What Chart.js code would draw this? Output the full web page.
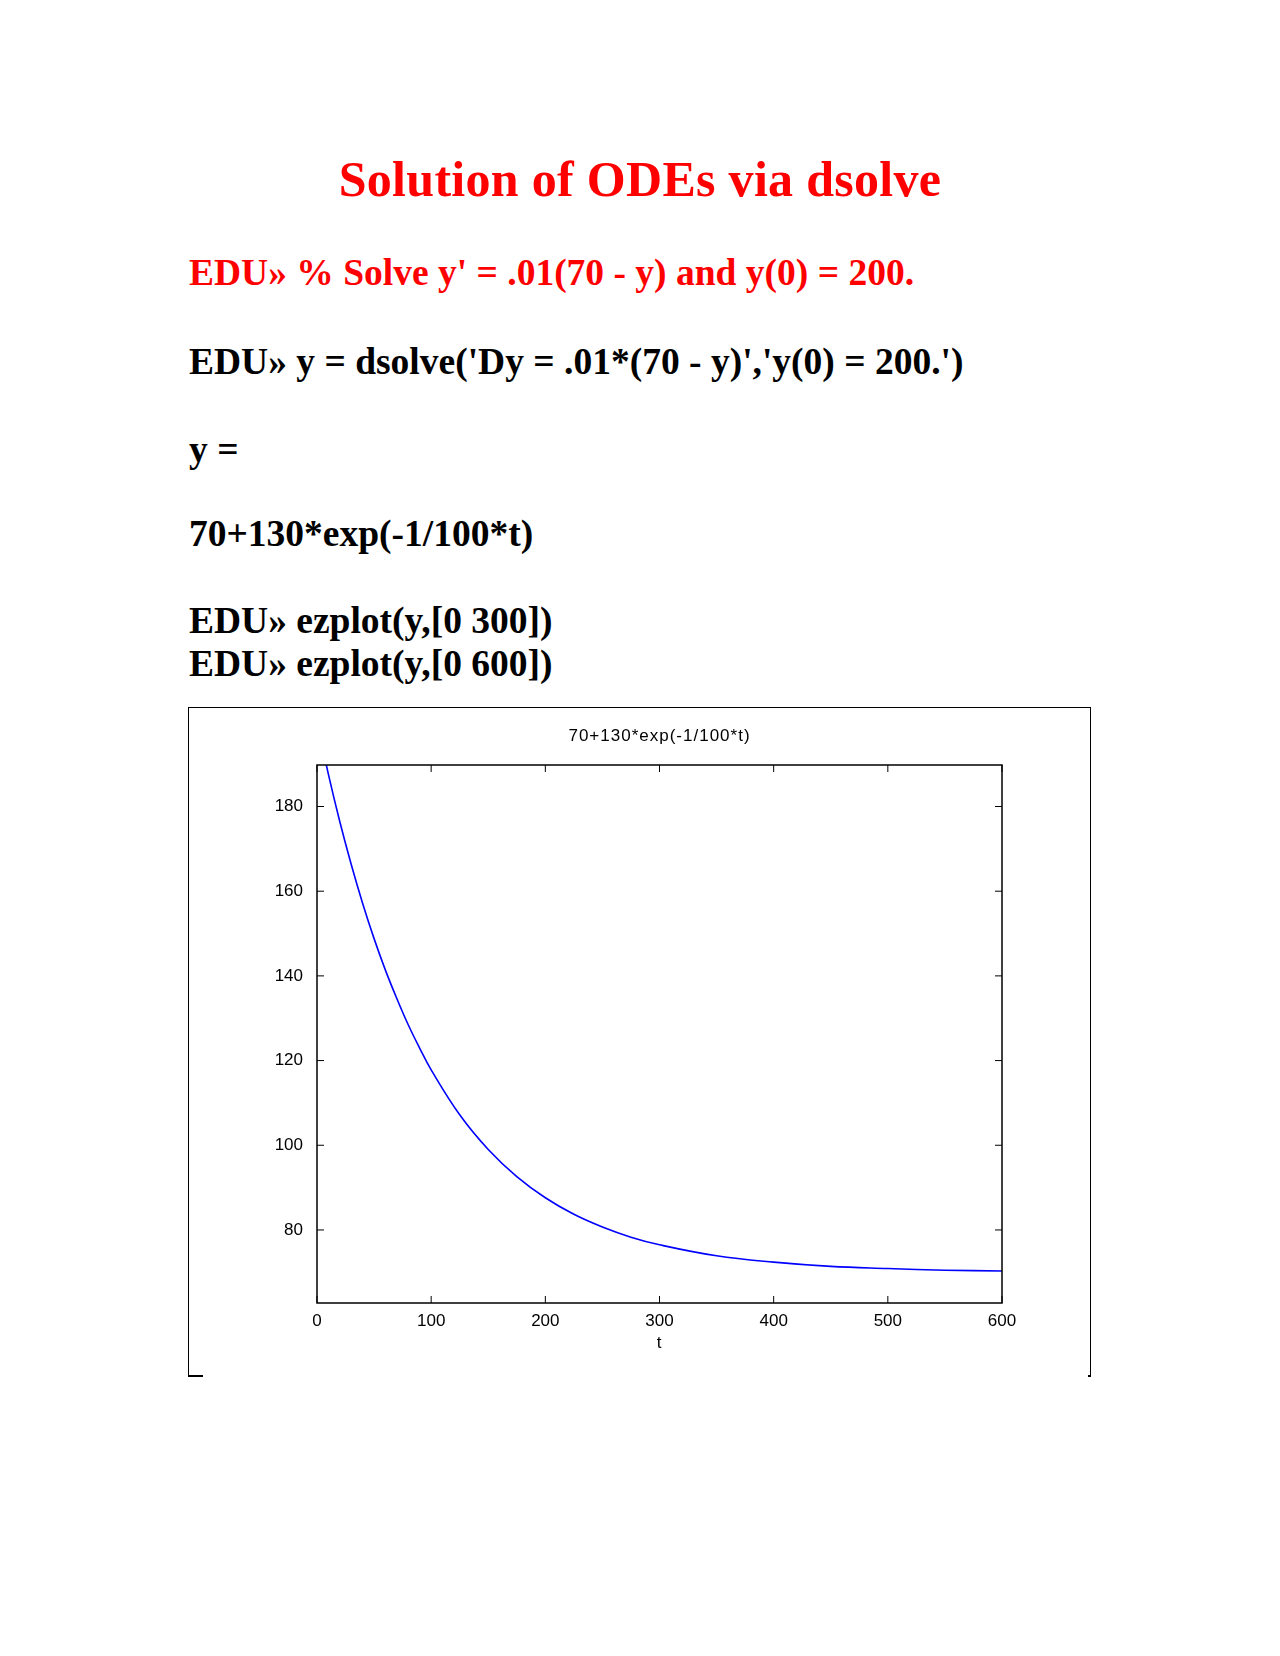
<!DOCTYPE html>
<html><head><meta charset="utf-8">
<script src="https://cdn.jsdelivr.net/npm/chart.js@4"></script>
<style>
body{margin:0;width:1280px;height:1656px;background:#fff;position:relative;font-family:"Liberation Serif","Times New Roman",serif;}
.t{position:absolute;font-weight:bold;white-space:nowrap;line-height:1;}
#box{position:absolute;left:188px;top:707px;width:901px;height:668px;border:1.5px solid #000;border-bottom:none;}
.seg{position:absolute;height:1.5px;background:#000;top:1375px;}
#cv{position:absolute;left:188px;top:707px;}
</style></head><body>
<div class="t" style="left:0;width:1280px;text-align:center;top:154px;font-size:50px;color:#f00;letter-spacing:0.3px">Solution of ODEs via dsolve</div>
<div class="t" style="left:189px;top:254px;font-size:37.5px;color:#f00">EDU» % Solve y' = .01(70 - y) and y(0) = 200.</div>
<div class="t" style="left:189px;top:343px;font-size:37.5px">EDU» y = dsolve('Dy = .01*(70 - y)','y(0) = 200.')</div>
<div class="t" style="left:189px;top:431px;font-size:37.5px">y =</div>
<div class="t" style="left:189px;top:515px;font-size:37.5px">70+130*exp(-1/100*t)</div>
<div class="t" style="left:189px;top:602px;font-size:37.5px">EDU» ezplot(y,[0 300])</div>
<div class="t" style="left:189px;top:645px;font-size:37.5px">EDU» ezplot(y,[0 600])</div>
<div id="box"></div>
<div class="seg" style="left:188px;width:15px"></div>
<div class="seg" style="left:1088px;width:3px"></div>
<canvas id="cv" width="903" height="669"></canvas>
<script>
const tValues=[0,10,20,30,40,50,60,70,80,90,100,125,150,175,200,225,250,275,300,350,400,450,500,550,600];
const yValues=[200,187.6,176.4,166.3,157.1,148.8,141.3,134.6,128.4,122.9,117.8,107.2,99.0,92.6,87.6,83.7,80.7,78.3,76.5,73.9,72.4,71.4,70.9,70.5,70.3];
const xTicks=[0,100,200,300,400,500,600];
const yTicks=[80,100,120,140,160,180];
const chartTitle="70+130*exp(-1/100*t)";
const xTitle="t";
const FONT='"Liberation Sans", Arial, sans-serif';
const deco={id:'deco',afterDraw(c){
  const ctx=c.ctx,a=c.chartArea,x=c.scales.x,y=c.scales.y;
  ctx.save();ctx.strokeStyle='#000';ctx.lineWidth=1.5;
  ctx.strokeRect(a.left,a.top,a.right-a.left,a.bottom-a.top);
  ctx.lineWidth=1;ctx.beginPath();
  xTicks.forEach(v=>{const p=x.getPixelForValue(v);ctx.moveTo(p,a.bottom);ctx.lineTo(p,a.bottom-7);ctx.moveTo(p,a.top);ctx.lineTo(p,a.top+7);});
  yTicks.forEach(v=>{const p=y.getPixelForValue(v);ctx.moveTo(a.left,p);ctx.lineTo(a.left+7,p);ctx.moveTo(a.right,p);ctx.lineTo(a.right-7,p);});
  ctx.stroke();
  ctx.fillStyle='#000';ctx.font='17px '+FONT;ctx.letterSpacing='1px';ctx.textAlign='center';ctx.textBaseline='middle';
  ctx.fillText(chartTitle,(a.left+a.right)/2,29);
  ctx.fillText(xTitle,(a.left+a.right)/2,636);
  ctx.restore();}};
new Chart(document.getElementById('cv'),{
  type:'line',
  data:{datasets:[{data:tValues.map((t,i)=>({x:t,y:yValues[i]})),borderColor:'#0000ff',borderWidth:1.6,pointRadius:0,tension:0.4,fill:false}]},
  options:{responsive:false,animation:false,
    layout:{padding:{left:0,right:89,top:58,bottom:0}},
    plugins:{legend:{display:false},tooltip:{enabled:false}},
    scales:{
      x:{type:'linear',min:0,max:600,grid:{display:false},border:{display:false},
        afterBuildTicks(s){s.ticks=xTicks.map(v=>({value:v}));},
        afterFit(s){s.height=73;},
        ticks:{color:'#000',font:{family:FONT,size:17},maxRotation:0,padding:0}},
      y:{min:62.75,max:189.8,grid:{display:false},border:{display:false},
        afterBuildTicks(s){s.ticks=yTicks.map(v=>({value:v}));},
        afterFit(s){s.width=129;},
        ticks:{color:'#000',font:{family:FONT,size:17},padding:6}}
    }},
  plugins:[deco]});
</script>
</body></html>
